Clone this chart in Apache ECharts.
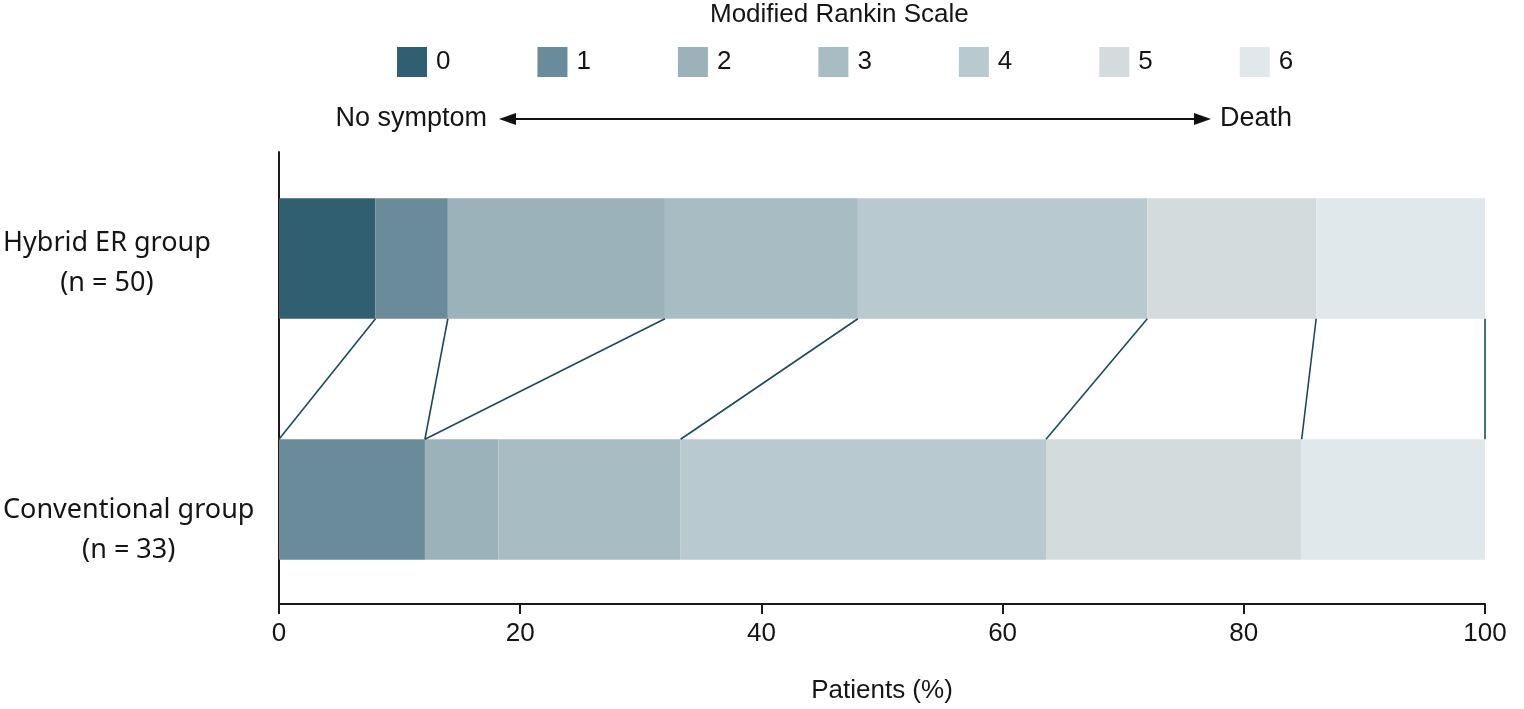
<!DOCTYPE html>
<html>
<head>
<meta charset="utf-8">
<script src="https://cdn.jsdelivr.net/npm/echarts@6.0.0/dist/echarts.min.js"></script>
<style>
html,body{margin:0;padding:0;background:#fff;}
#chart{width:1524px;height:709px;}
</style>
</head>
<body>
<div id="chart"></div>
<script>
// ---- data ----
const groups = ['Hybrid ER group', 'Conventional group'];
const groupN = [50, 33];
const mrsLevels = ['0', '1', '2', '3', '4', '5', '6'];
const hybridPct = [8, 6, 18, 16, 24, 14, 14];
const conventionalPct = [0, 12.1, 6.1, 15.1, 30.3, 21.2, 15.2];
// connector lines between the two bars (as drawn in the figure)
const hybridLinkEnds = [8, 14, 32, 48, 72, 86, 100];
const conventionalLinkEnds = [0, 12.1, 12.1, 33.3, 63.6, 84.8, 100];
const xTickMin = 0, xTickMax = 100, xTickStep = 20;
const titleText = 'Modified Rankin Scale';
const axisName = 'Patients (%)';
const leftEndText = 'No symptom';
const rightEndText = 'Death';

// ---- styles ----
const colors = ['#2f5f70', '#6a8b99', '#9bb2bb', '#a8bcc3', '#b8c9cf', '#d3dbdd', '#e0e8eb'];
const FONT = '"Liberation Sans", Arial, Helvetica, sans-serif';
const LABEL_FONT = '"Noto Sans", "Liberation Sans", sans-serif';
const INK = '#151515';

const chart = echarts.init(document.getElementById('chart'), null, {renderer: 'canvas'});

const barSeries = mrsLevels.map((lv, i) => ({
  name: lv,
  type: 'bar',
  stack: 'mrs',
  xAxisIndex: 0,
  yAxisIndex: 0,
  barWidth: '50%',
  silent: true,
  itemStyle: {color: colors[i]},
  data: [hybridPct[i], conventionalPct[i]]
}));

const linkSeries = {
  type: 'custom',
  xAxisIndex: 0,
  yAxisIndex: 0,
  silent: true,
  z: 5,
  encode: {x: [0, 1], y: 2},
  data: hybridLinkEnds.map((v, i) => [v, conventionalLinkEnds[i], 0]),
  renderItem: function (params, api) {
    const band = api.size([0, 1])[1];
    const p1 = api.coord([api.value(0), 0]);
    const p2 = api.coord([api.value(1), 1]);
    return {
      type: 'line',
      shape: {x1: p1[0], y1: p1[1] + band * 0.25, x2: p2[0], y2: p2[1] - band * 0.25},
      style: {stroke: '#1d4b5b', lineWidth: 1.6}
    };
  }
};

const labelStyle = {fontFamily: LABEL_FONT, fontSize: 27, color: INK, align: 'center'};

const option = {
  animation: false,
  backgroundColor: '#ffffff',
  title: {
    text: titleText,
    left: 710,
    top: 2,
    padding: 0,
    textStyle: {fontFamily: FONT, fontSize: 26, fontWeight: 'normal', color: INK}
  },
  legend: {
    data: mrsLevels,
    left: 392,
    top: 42,
    icon: 'rect',
    itemWidth: 30,
    itemHeight: 30,
    itemGap: 87,
    selectedMode: false,
    textStyle: {fontFamily: FONT, fontSize: 26, color: INK, padding: [0, 0, 0, 4]}
  },
  grid: [
    {left: 279, right: 39, top: 138, height: 482},
    {left: 279, right: 39, top: 152, bottom: 104}
  ],
  xAxis: [
    {gridIndex: 0, type: 'value', min: xTickMin, max: xTickMax, show: false},
    {
      gridIndex: 1, type: 'value', min: xTickMin, max: xTickMax, interval: xTickStep,
      axisLine: {show: true, lineStyle: {color: '#1a1a1a', width: 2}},
      axisTick: {show: true, length: 10, lineStyle: {color: '#1a1a1a', width: 2}},
      axisLabel: {fontFamily: FONT, fontSize: 26, color: INK, margin: 17},
      splitLine: {show: false},
      name: axisName,
      nameLocation: 'middle',
      nameGap: 74,
      nameTextStyle: {fontFamily: FONT, fontSize: 26, color: INK}
    }
  ],
  yAxis: [
    {
      gridIndex: 0, type: 'category', data: groups, inverse: true,
      axisLine: {show: false}, axisTick: {show: false}, splitLine: {show: false},
      axisLabel: {
        align: 'left',
        margin: 276,
        formatter: function (value, idx) {
          const nLine = '(n = ' + groupN[idx] + ')';
          if (idx === 0) return '{s0| }\n{h|' + value + '}\n{a|' + nLine + '}';
          return '{s1| }\n{c|' + value + '}\n{a|' + nLine + '}';
        },
        rich: {
          s0: {fontSize: 4, lineHeight: 9},
          s1: {fontSize: 4, lineHeight: 62},
          h: Object.assign({lineHeight: 40}, labelStyle),
          c: Object.assign({lineHeight: 39}, labelStyle),
          a: Object.assign({lineHeight: 40}, labelStyle)
        }
      }
    },
    {
      gridIndex: 1, type: 'value', min: 0, max: 1,
      axisLine: {show: true, onZero: false, lineStyle: {color: '#1a1a1a', width: 2}},
      axisTick: {show: false}, axisLabel: {show: false}, splitLine: {show: false}
    }
  ],
  graphic: [
    {type: 'text', silent: true, style: {x: 487, y: 119, text: leftEndText, textAlign: 'right', textVerticalAlign: 'middle', font: '27px ' + FONT, fill: INK}},
    {type: 'text', silent: true, style: {x: 1220, y: 119, text: rightEndText, textAlign: 'left', textVerticalAlign: 'middle', font: '27px ' + FONT, fill: INK}},
    {type: 'line', silent: true, shape: {x1: 512, y1: 119, x2: 1198, y2: 119}, style: {stroke: '#111', lineWidth: 2}},
    {type: 'polygon', silent: true, shape: {points: [[499, 119], [516, 113], [516, 125]]}, style: {fill: '#111'}},
    {type: 'polygon', silent: true, shape: {points: [[1211, 119], [1194, 113], [1194, 125]]}, style: {fill: '#111'}}
  ],
  series: barSeries.concat([linkSeries])
};

chart.setOption(option);
</script>
</body>
</html>
